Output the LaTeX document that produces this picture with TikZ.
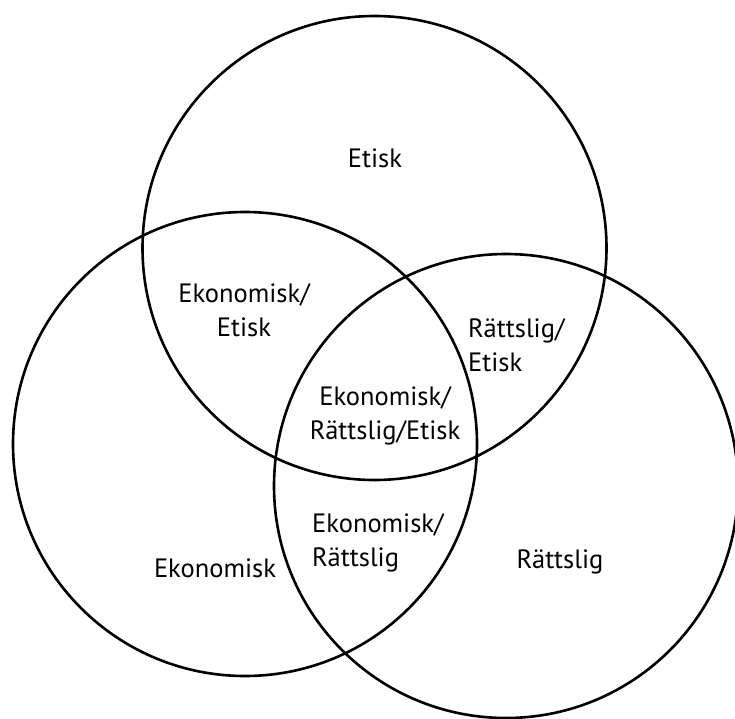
\documentclass[tikz,border=0pt]{standalone}
\usepackage{fontspec}
\setmainfont{PT Sans}
\begin{document}
\begin{tikzpicture}[
  x=1pt, y=-1pt,
  set/.style={
    circle, draw, line width=2.6pt, minimum size=464pt, inner sep=0pt
  },
  region/.style={
    font=\fontsize{26.5}{34}\selectfont, inner sep=0pt
  }
  ]
  \useasboundingbox (0,0) rectangle (735,718);
  % the three sets
  \node[set] (etik) at (374.5,248) {};
  \node[set] (ekonomi) at (245,444) {};
  \node[set] (ratt) at (506,486) {};
  % region labels
  \node[region] (e) at (375,158) {Etisk};
  \node[region, align=center] (ee) at (244,310) {Ekonomisk/\\Etisk};
  \node[region, align=left, anchor=west] (re) at (468,345) {Rättslig/\\Etisk};
  \node[region, align=center] (ere) at (385,416) {Ekonomisk/\\Rättslig/Etisk};
  \node[region, align=left, anchor=west] (er) at (312,543) {Ekonomisk/\\Rättslig};
  \node[region] (ek) at (215,568) {Ekonomisk};
  \node[region] (r) at (560,562) {Rättslig};
\end{tikzpicture}
\end{document}
